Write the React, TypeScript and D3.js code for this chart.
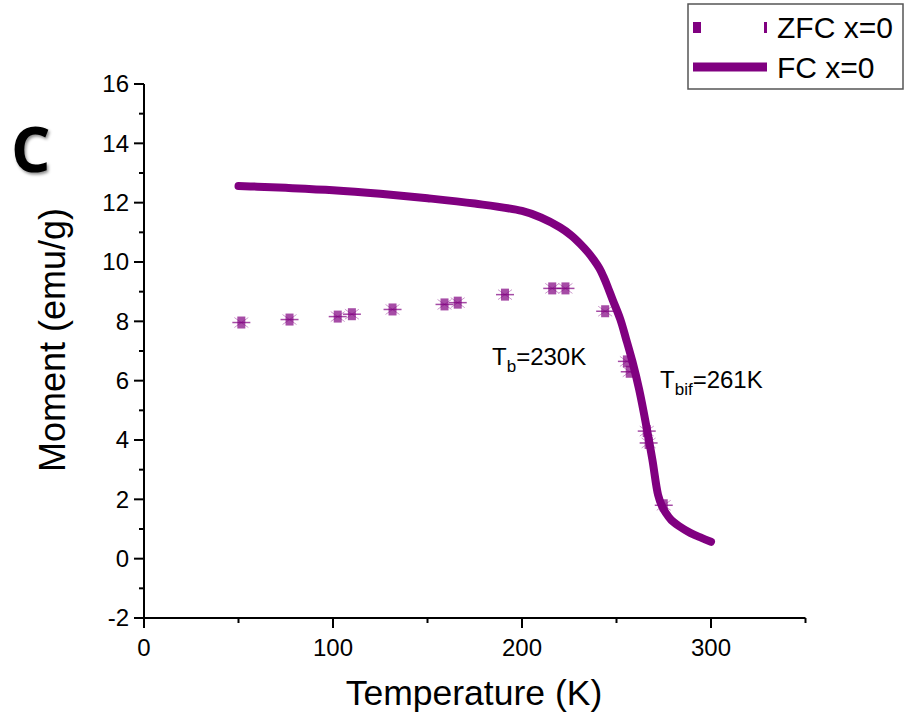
import React from "react";
import * as d3 from "d3";

const fcT = [50, 60, 75, 100, 125, 150, 175, 200, 210, 220, 226, 231, 235, 238, 241, 243, 245, 248, 252, 255, 258.4, 262, 266, 269, 272, 274, 276, 279, 283, 289, 295, 300];
const fcM = [12.56, 12.54, 12.5, 12.42, 12.3, 12.15, 11.97, 11.72, 11.5, 11.17, 10.9, 10.6, 10.32, 10.07, 9.78, 9.52, 9.22, 8.72, 8.07, 7.42, 6.65, 5.7, 4.4, 3.33, 2.15, 1.78, 1.55, 1.3, 1.1, 0.87, 0.7, 0.57];

const zfcT = [51.5, 77, 102.5, 110, 131.5, 159, 166, 191, 216, 223, 244, 255.5, 257, 266, 267, 275];
const zfcM = [7.96, 8.06, 8.16, 8.24, 8.4, 8.57, 8.63, 8.9, 9.11, 9.11, 8.34, 6.65, 6.3, 4.3, 3.9, 1.8];

const xTicks = [0, 100, 200, 300];
const xMinor = [50, 150, 250, 350];
const yTicks = [-2, 0, 2, 4, 6, 8, 10, 12, 14, 16];
const yMinor = [-1, 1, 3, 5, 7, 9, 11, 13, 15];

const legendLabels = ["ZFC x=0", "FC x=0"];

const PURPLE = "#800080";
const FONT = "'Liberation Sans', Arial, sans-serif";

export default function App() {
  const x = d3.scaleLinear().domain([0, 350]).range([144, 805.5]);
  const y = d3.scaleLinear().domain([-2, 16]).range([618, 84]);

  const fcData = fcT.map((t, i) => [t, fcM[i]] as [number, number]);
  const line = d3
    .line<[number, number]>()
    .x((d) => x(d[0]))
    .y((d) => y(d[1]))
    .curve(d3.curveCatmullRom.alpha(0.5));

  return (
    <svg width={906} height={723} style={{ display: "block", position: "absolute", left: 0, top: 0 }} fontFamily={FONT}>
      <defs>
        <filter id="shadow" x="-30%" y="-30%" width="160%" height="160%">
          <feDropShadow dx="1.5" dy="2" stdDeviation="1.5" floodColor="#000" floodOpacity="0.45" />
        </filter>
      </defs>
      <rect width={906} height={723} fill="#fff" />

      {/* Panel label */}
      <text x={11} y={172} fontFamily="'Open Sans', sans-serif" fontWeight={700} fontSize={62} fill="#000" filter="url(#shadow)">
        C
      </text>

      {/* Axes */}
      <line x1={144} x2={144} y1={84} y2={618} stroke="#000" strokeWidth={2} />
      <line x1={144} x2={805.5} y1={618} y2={618} stroke="#000" strokeWidth={2} />

      {yTicks.map((v) => (
        <g key={"yt" + v}>
          <line x1={134} x2={144} y1={y(v)} y2={y(v)} stroke="#000" strokeWidth={2} />
          <text x={129} y={y(v)} dy="0.35em" textAnchor="end" fontSize={24} fill="#000">
            {v}
          </text>
        </g>
      ))}
      {yMinor.map((v) => (
        <line key={"ym" + v} x1={139} x2={144} y1={y(v)} y2={y(v)} stroke="#000" strokeWidth={2} />
      ))}
      {xTicks.map((v) => (
        <g key={"xt" + v}>
          <line x1={x(v)} x2={x(v)} y1={618} y2={628} stroke="#000" strokeWidth={2} />
          <text x={x(v)} y={656} textAnchor="middle" fontSize={24} fill="#000">
            {v}
          </text>
        </g>
      ))}
      {xMinor.map((v) => (
        <line key={"xm" + v} x1={x(v)} x2={x(v)} y1={618} y2={623} stroke="#000" strokeWidth={2} />
      ))}

      {/* Axis titles */}
      <text x={474} y={705} textAnchor="middle" fontSize={35.5} fill="#000">
        Temperature (K)
      </text>
      <text transform={`translate(65,340) rotate(-90)`} textAnchor="middle" fontSize={36} fill="#000">
        Moment (emu/g)
      </text>

      {/* FC line */}
      <path d={line(fcData) || ""} fill="none" stroke={PURPLE} strokeWidth={8} strokeLinecap="round" strokeLinejoin="round" />

      {/* ZFC markers */}
      {zfcT.map((t, i) => {
        const cx = x(t);
        const cy = y(zfcM[i]);
        return (
          <g key={"z" + i}>
            <line x1={cx - 9} x2={cx + 9} y1={cy} y2={cy} stroke={PURPLE} strokeWidth={1.5} opacity={0.7} />
            <line x1={cx - 7} x2={cx + 7} y1={cy - 5} y2={cy + 5} stroke={PURPLE} strokeWidth={1} opacity={0.4} />
            <line x1={cx - 7} x2={cx + 7} y1={cy + 5} y2={cy - 5} stroke={PURPLE} strokeWidth={1} opacity={0.4} />
            <rect x={cx - 4} y={cy - 6} width={8} height={12} fill={PURPLE} opacity={0.7} />
          </g>
        );
      })}

      {/* Annotations */}
      <text x={492} y={365} fontSize={24} fill="#000">
        T<tspan fontSize={17} dy={7}>b</tspan>
        <tspan dy={-7}>=230K</tspan>
      </text>
      <text x={660} y={388} fontSize={24} fill="#000">
        T<tspan fontSize={17} dy={7}>bif</tspan>
        <tspan dy={-7}>=261K</tspan>
      </text>

      {/* Legend */}
      <rect x={688} y={4} width={215} height={85} fill="#fff" stroke="#555" strokeWidth={1.5} />
      <rect x={693} y={22} width={8} height={11} fill={PURPLE} />
      <rect x={764} y={22} width={3} height={11} fill={PURPLE} />
      <text x={777} y={38} fontSize={30} fill="#000">
        {legendLabels[0]}
      </text>
      <line x1={693} x2={767} y1={67} y2={67} stroke={PURPLE} strokeWidth={9} />
      <text x={777} y={78} fontSize={30} fill="#000">
        {legendLabels[1]}
      </text>
    </svg>
  );
}
